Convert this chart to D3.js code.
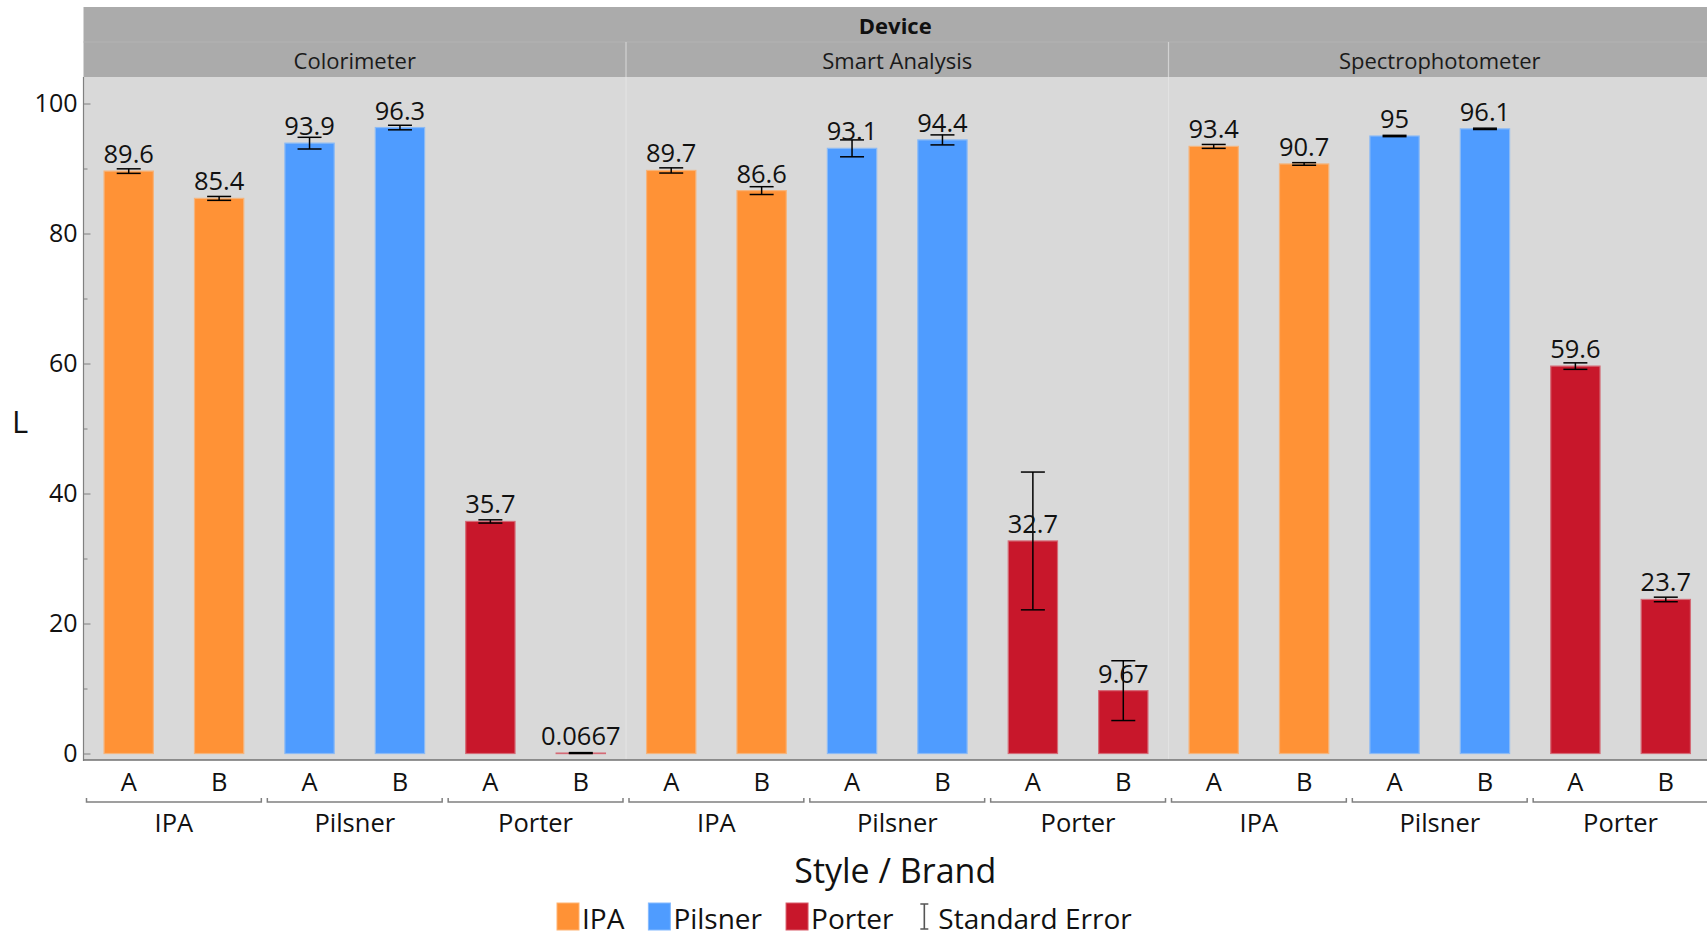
<!DOCTYPE html>
<html>
<head>
<meta charset="utf-8">
<script src="https://cdn.jsdelivr.net/npm/d3@7/dist/d3.min.js"></script>
<style>
  body { margin: 0; background: #ffffff; }
  svg text { font-family: "Open Sans", "Noto Sans", sans-serif; fill: #111; }
</style>
</head>
<body>
<svg id="chart" width="1707" height="936"></svg>
<script>
// ---- data ----
const devices = ["Colorimeter", "Smart Analysis", "Spectrophotometer"];
const styles = ["IPA", "Pilsner", "Porter"];
const brands = ["A", "B"];

// mean L per device, ordered IPA A, IPA B, Pilsner A, Pilsner B, Porter A, Porter B
const colorimeterL = [89.6, 85.4, 93.9, 96.3, 35.7, 0.0667];
const smartAnalysisL = [89.7, 86.6, 93.1, 94.4, 32.7, 9.67];
const spectrophotometerL = [93.4, 90.7, 95, 96.1, 59.6, 23.7];

// standard error per bar, same order
const colorimeterSE = [0.35, 0.3, 0.9, 0.35, 0.25, 0.07];
const smartAnalysisSE = [0.4, 0.6, 1.3, 0.77, 10.6, 4.6];
const spectrophotometerSE = [0.3, 0.2, 0.1, 0.1, 0.5, 0.35];

const yTicks = [0, 20, 40, 60, 80, 100];
const yMinorTicks = [10, 30, 50, 70, 90];
const styleColors = ["#FF9236", "#4F9CFF", "#C8172B"];
const valueLabels = [
  ["89.6", "85.4", "93.9", "96.3", "35.7", "0.0667"],
  ["89.7", "86.6", "93.1", "94.4", "32.7", "9.67"],
  ["93.4", "90.7", "95", "96.1", "59.6", "23.7"]
];

const meansByDevice = [colorimeterL, smartAnalysisL, spectrophotometerL];
const seByDevice = [colorimeterSE, smartAnalysisSE, spectrophotometerSE];

const combos = [];
styles.forEach(s => brands.forEach(b => combos.push(s + "|" + b)));

const rows = [];
devices.forEach((dev, i) => {
  combos.forEach((key, j) => {
    const [style, brand] = key.split("|");
    rows.push({
      device: dev, style, brand, key,
      value: meansByDevice[i][j],
      se: seByDevice[i][j],
      label: valueLabels[i][j]
    });
  });
});

// ---- layout ----
const svg = d3.select("#chart");
const plotLeft = 83.5, plotRight = 1711;
const plotTop = 77, plotBottom = 760;
const headerTop = 7, headerMid = 42;

const color = d3.scaleOrdinal().domain(styles).range(styleColors);
const xPanel = d3.scaleBand().domain(devices).range([plotLeft, plotRight]);
const panelW = xPanel.bandwidth();
const xCombo = d3.scaleBand().domain(combos).range([0, panelW])
  .paddingInner(0.455).paddingOuter(0.2275);
const xStyle = d3.scaleBand().domain(styles).range([0, panelW]);
const y = d3.scaleLinear().domain([0, 100]).range([753.5, 103.5]);

// plot background
svg.append("rect")
  .attr("x", plotLeft).attr("y", plotTop)
  .attr("width", plotRight - plotLeft).attr("height", plotBottom - plotTop)
  .attr("fill", "#D9D9D9");

// header strips
svg.append("rect")
  .attr("x", plotLeft).attr("y", headerTop)
  .attr("width", plotRight - plotLeft).attr("height", plotTop - headerTop)
  .attr("fill", "#ABABAB");
svg.append("line")
  .attr("x1", plotLeft).attr("x2", plotRight)
  .attr("y1", headerMid).attr("y2", headerMid)
  .attr("stroke", "#B3B3B3").attr("stroke-width", 1);

svg.append("text")
  .attr("x", (plotLeft + 1707) / 2).attr("y", 34)
  .attr("text-anchor", "middle")
  .style("font-size", "22px").style("font-weight", "700")
  .text("Device");

// panel separators
devices.slice(1).forEach(dev => {
  const x = xPanel(dev);
  svg.append("line").attr("x1", x).attr("x2", x)
    .attr("y1", headerMid).attr("y2", plotTop)
    .attr("stroke", "#D2D2D2").attr("stroke-width", 1.2);
  svg.append("line").attr("x1", x).attr("x2", x)
    .attr("y1", plotTop).attr("y2", plotBottom)
    .attr("stroke", "#E2E2E2").attr("stroke-width", 1.2);
});

// panel titles
svg.selectAll("text.panel-title").data(devices).join("text")
  .attr("class", "panel-title")
  .attr("x", d => xPanel(d) + panelW / 2)
  .attr("y", 69)
  .attr("text-anchor", "middle")
  .style("font-size", "22px").style("fill", "#1a1a1a")
  .text(d => d);

// y axis ticks (pointing into the plot)
const yAxis = d3.axisLeft(y).tickValues(yTicks).tickSize(-7).tickPadding(6)
  .tickFormat(d3.format("d"));
const gy = svg.append("g").attr("transform", `translate(${plotLeft},0)`).call(yAxis);
gy.select(".domain").remove();
gy.selectAll(".tick line").attr("stroke", "#808080");
gy.selectAll(".tick text").style("font-size", "25px").style("font-family", "'Open Sans', sans-serif")
  .attr("fill", "#111");

const yMinor = d3.axisLeft(y).tickValues(yMinorTicks).tickSize(-4).tickFormat("");
const gym = svg.append("g").attr("transform", `translate(${plotLeft},0)`).call(yMinor);
gym.select(".domain").remove();
gym.selectAll(".tick line").attr("stroke", "#808080");

// axis lines
svg.append("line").attr("x1", plotLeft).attr("x2", plotLeft)
  .attr("y1", plotTop).attr("y2", plotBottom + 1)
  .attr("stroke", "#808080").attr("stroke-width", 1.2);
svg.append("line").attr("x1", plotLeft).attr("x2", plotRight)
  .attr("y1", plotBottom).attr("y2", plotBottom)
  .attr("stroke", "#707070").attr("stroke-width", 1.6);

// bars
const bx = d => xPanel(d.device) + xCombo(d.key);
const cx = d => bx(d) + xCombo.bandwidth() / 2;

svg.append("g").selectAll("rect").data(rows).join("rect")
  .attr("x", bx)
  .attr("width", xCombo.bandwidth())
  .attr("y", d => y(d.value))
  .attr("height", d => Math.max(0.5, y(0) - y(d.value)))
  .attr("fill", d => color(d.style))
  .attr("stroke", d => d3.interpolateRgb(color(d.style), "#E6E6E6")(0.4))
  .attr("stroke-width", 1.2);

// error bars
const capHalf = 12;
const eb = svg.append("g").selectAll("g").data(rows).join("g")
  .attr("stroke", "#000").attr("stroke-width", 1.5);
eb.append("line")
  .attr("x1", cx).attr("x2", cx)
  .attr("y1", d => y(d.value + d.se)).attr("y2", d => y(Math.max(0, d.value - d.se)));
eb.append("line")
  .attr("x1", d => cx(d) - capHalf).attr("x2", d => cx(d) + capHalf)
  .attr("y1", d => y(d.value + d.se)).attr("y2", d => y(d.value + d.se));
eb.append("line")
  .attr("x1", d => cx(d) - capHalf).attr("x2", d => cx(d) + capHalf)
  .attr("y1", d => y(Math.max(0, d.value - d.se))).attr("y2", d => y(Math.max(0, d.value - d.se)));

// value labels
svg.append("g").selectAll("text").data(rows).join("text")
  .attr("x", cx)
  .attr("y", d => y(d.value) - 8)
  .attr("text-anchor", "middle")
  .style("font-size", "25.5px")
  .text(d => d.label);

// brand tick labels
svg.append("g").selectAll("text").data(rows).join("text")
  .attr("x", cx)
  .attr("y", 791)
  .attr("text-anchor", "middle")
  .style("font-size", "25.5px")
  .text(d => d.brand);

// style group brackets and labels
const groups = [];
devices.forEach(dev => styles.forEach(s => groups.push({ device: dev, style: s })));
svg.append("g").selectAll("path").data(groups).join("path")
  .attr("d", g => {
    const x0 = xPanel(g.device) + xStyle(g.style) + 3;
    const x1 = xPanel(g.device) + xStyle(g.style) + xStyle.bandwidth() - 3;
    return `M${x0},798 V802 H${x1} V798`;
  })
  .attr("fill", "none").attr("stroke", "#808080").attr("stroke-width", 1.5);

svg.append("g").selectAll("text").data(groups).join("text")
  .attr("x", g => xPanel(g.device) + xStyle(g.style) + xStyle.bandwidth() / 2)
  .attr("y", 832)
  .attr("text-anchor", "middle")
  .style("font-size", "25.5px")
  .text(g => g.style);

// axis titles
svg.append("text")
  .attr("x", (plotLeft + 1707) / 2).attr("y", 883)
  .attr("text-anchor", "middle")
  .style("font-size", "34px")
  .text("Style / Brand");

svg.append("text")
  .attr("x", 20).attr("y", 433)
  .attr("text-anchor", "middle")
  .style("font-size", "31px")
  .text("L");

// legend
const legend = svg.append("g");
let lx = 557;
const legY = 903, swW = 22, swH = 27;
styles.forEach(s => {
  legend.append("rect").attr("x", lx).attr("y", legY).attr("width", swW).attr("height", swH)
    .attr("fill", color(s))
    .attr("stroke", d3.interpolateRgb(color(s), "#ffffff")(0.3)).attr("stroke-width", 1);
  const t = legend.append("text").attr("x", lx + swW + 3).attr("y", legY + 26)
    .style("font-size", "28px").text(s);
  lx += swW + 3 + t.node().getComputedTextLength() + 24;
});
// standard error glyph
const ex = lx + 7;
legend.append("path")
  .attr("d", `M${ex - 4},${legY + 1} H${ex + 4} M${ex},${legY + 1} V${legY + swH - 1} M${ex - 4},${legY + swH - 1} H${ex + 4}`)
  .attr("stroke", "#555").attr("stroke-width", 1.6).attr("fill", "none");
legend.append("text").attr("x", ex + 14).attr("y", legY + 26)
  .style("font-size", "28px").text("Standard Error");
</script>
</body>
</html>
